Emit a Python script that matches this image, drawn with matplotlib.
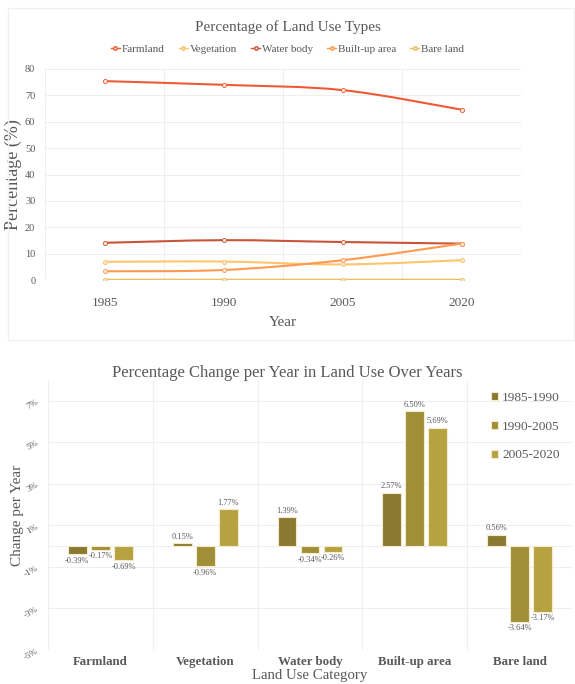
import numpy as np
import matplotlib.pyplot as plt
from matplotlib.path import Path
from matplotlib.patches import PathPatch, Rectangle
from matplotlib.lines import Line2D

plt.rcParams['font.family'] = ['Liberation Serif', 'DejaVu Serif']

# ---- data: land use share (%) ----
years = ['1985', '1990', '2005', '2020']
farmland = [75.4, 74.0, 72.0, 64.6]
vegetation = [6.9, 7.0, 5.9, 7.5]
water_body = [14.1, 15.1, 14.4, 13.8]
built_up = [3.3, 3.8, 7.5, 13.8]
bare_land = [0.1, 0.1, 0.1, 0.1]

# ---- data: change per year (%) ----
categories = ['Farmland', 'Vegetation', 'Water body', 'Built-up area', 'Bare land']
periods = ['1985-1990', '1990-2005', '2005-2020']
chg_85_90 = [-0.39, 0.15, 1.39, 2.57, 0.56]
chg_90_05 = [-0.17, -0.96, -0.34, 6.50, -3.64]
chg_05_20 = [-0.69, 1.77, -0.26, 5.69, -3.17]

txt = '#595959'
grid_c = '#EFEFEF'


def smooth_path(x, y):
    # excel-like smoothed line: cubic bezier through the points
    x = np.asarray(x, float)
    y = np.asarray(y, float)
    verts = [(x[0], y[0])]
    codes = [Path.MOVETO]
    n = len(x)
    for i in range(n - 1):
        x0, y0 = (x[i - 1], y[i - 1]) if i > 0 else (x[i], y[i])
        x3, y3 = (x[i + 2], y[i + 2]) if i + 2 < n else (x[i + 1], y[i + 1])
        c1 = (x[i] + (x[i + 1] - x0) / 6, y[i] + (y[i + 1] - y0) / 6)
        c2 = (x[i + 1] - (x3 - x[i]) / 6, y[i + 1] - (y3 - y[i]) / 6)
        verts += [c1, c2, (x[i + 1], y[i + 1])]
        codes += [Path.CURVE4] * 3
    return Path(verts, codes)


fig = plt.figure(figsize=(5.75, 6.84), dpi=100)

# light frame round the top chart
fig.patches.append(Rectangle((8 / 575, 1 - 340 / 684), 566 / 575, 332 / 684,
                             transform=fig.transFigure, fill=False,
                             edgecolor='#F0F0F0', lw=1))

# ---------- top chart ----------
ax1 = fig.add_axes([45 / 575, 1 - 280 / 684, 476 / 575, 211 / 684])
xs = np.arange(len(years))
series = [
    ('Farmland', farmland, '#EE5A36'),
    ('Vegetation', vegetation, '#FFC46E'),
    ('Water body', water_body, '#C8553A'),
    ('Built-up area', built_up, '#FF9950'),
    ('Bare land', bare_land, '#E6C060'),
]
handles = []
for name, vals, col in series:
    ax1.add_patch(PathPatch(smooth_path(xs, vals), fill=False, edgecolor=col, lw=1.5))
    ax1.plot(xs, vals, ls='none', marker='o', ms=3, mfc='#FBE3D0', mec=col, mew=0.6)
    handles.append(Line2D([], [], color=col, lw=1.0, marker='o', ms=2.5,
                          mfc='#FBE3D0', mec=col, label=name))

ax1.set_xlim(-0.5, len(years) - 0.5)
ax1.set_ylim(0, 80)
ax1.set_yticks(range(0, 81, 10))
ax1.set_xticks(xs)
ax1.set_xticklabels(years, fontsize=9.5, color=txt)
ax1.tick_params(axis='y', labelsize=7.5, colors=txt, length=0, pad=7)
ax1.tick_params(axis='x', length=0, pad=12)
ax1.set_xticks(np.arange(-0.5, len(years), 1), minor=True)
ax1.grid(True, axis='y', color=grid_c, lw=0.8)
ax1.grid(True, axis='x', which='minor', color=grid_c, lw=0.8)
ax1.grid(False, axis='x', which='major')
ax1.tick_params(axis='x', which='minor', length=0)
for s in ax1.spines.values():
    s.set_visible(False)
ax1.set_axisbelow(True)
ax1.set_xlabel('Year', fontsize=11, color=txt, labelpad=5)
ax1.set_ylabel('Percentage (%)', fontsize=13, color=txt, labelpad=2)
fig.text(0.5, 1 - 27 / 684, 'Percentage of Land Use Types', ha='center', va='center',
         fontsize=11, color=txt)
fig.legend(handles=handles, loc='center', bbox_to_anchor=(0.5, 1 - 49 / 684), ncol=5,
           frameon=False, fontsize=8, handlelength=0.8, handletextpad=0.15,
           columnspacing=1.3, labelcolor=txt)

# ---------- bottom chart ----------
ax2 = fig.add_axes([48 / 575, 1 - 650 / 684, 524 / 575, 270 / 684])
cx = np.arange(len(categories))
bw = 0.18
step = 0.22
bar_cols = ['#8A7A31', '#A18F37', '#B7A241']
for k, (lab, vals) in enumerate(zip(periods, [chg_85_90, chg_90_05, chg_05_20])):
    bars = ax2.bar(cx + (k - 1) * step, vals, bw, color=bar_cols[k], edgecolor='#F3EBCB',
                   lw=0.8, label=lab, zorder=3)
    for b, v in zip(bars, vals):
        yy = v + 0.12 if v >= 0 else v - 0.12
        ax2.text(b.get_x() + b.get_width() / 2, yy, f'{v:.2f}%', ha='center',
                 va='bottom' if v >= 0 else 'top', fontsize=6, color=txt)

ax2.set_xlim(-0.5, len(categories) - 0.5)
ax2.set_ylim(-5, 8)
ax2.set_yticks(range(-5, 8, 2))
ax2.set_yticklabels([f'{v}%' for v in range(-5, 8, 2)], rotation=30, fontsize=6.5, color=txt)
ax2.axhline(0, color=grid_c, lw=0.8, zorder=1)
ax2.set_xticks(cx)
ax2.set_xticklabels(categories, fontsize=9.3, fontweight='bold', color=txt)
ax2.set_xticks(np.arange(-0.5, len(categories), 1), minor=True)
ax2.tick_params(axis='both', which='both', length=0)
ax2.tick_params(axis='y', pad=6)
ax2.tick_params(axis='x', pad=4)
ax2.grid(True, axis='y', color=grid_c, lw=0.8)
ax2.grid(True, axis='x', which='minor', color=grid_c, lw=0.8)
ax2.grid(False, axis='x', which='major')
for s in ax2.spines.values():
    s.set_visible(False)
ax2.set_axisbelow(True)
ax2.set_xlabel('Land Use Category', fontsize=10.7, color=txt, labelpad=1)
ax2.set_ylabel('Change per Year', fontsize=11, color=txt, labelpad=-1)
fig.text(0.5, 1 - 373 / 684, 'Percentage Change per Year in Land Use Over Years',
         ha='center', va='center', fontsize=12, color=txt)
ax2.legend(loc='upper right', bbox_to_anchor=(1.0, 1.0), frameon=False, fontsize=9.6,
           handlelength=0.55, handleheight=0.55, handletextpad=0.3, labelspacing=1.25,
           labelcolor=txt)

fig.savefig('out.png', dpi=100, facecolor='white')
